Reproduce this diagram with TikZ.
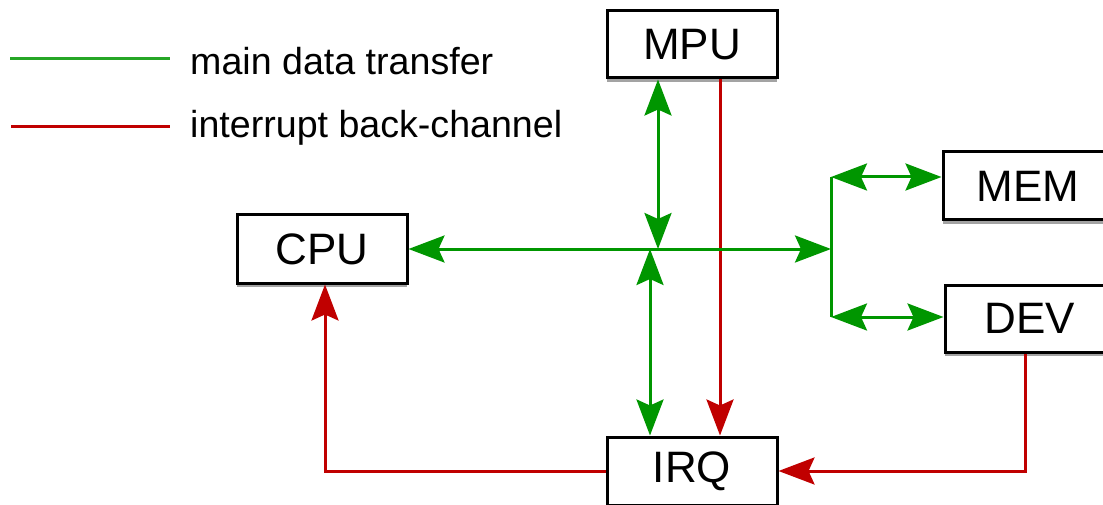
\documentclass[tikz,border=0pt]{standalone}
\usepackage{fontspec}
\setmainfont{Liberation Sans}
\usetikzlibrary{arrows.meta,shadows}
\definecolor{dgreen}{RGB}{0,150,0}
\definecolor{dred}{RGB}{192,0,0}
\tikzset{
  blk/.style={draw=black, line width=3pt, fill=white, minimum width=170pt, minimum height=67pt,
    inner sep=0pt, font=\fontsize{44}{50}\selectfont,
    drop shadow={shadow xshift=0pt, shadow yshift=-4pt, fill=black!60, opacity=0.6}},
  gline/.style={draw=dgreen, line width=3pt, fill=dgreen},
  rline/.style={draw=dred, line width=3pt},
  leg/.style={anchor=base west, inner sep=0pt, font=\fontsize{37.6}{44}\selectfont},
  >={Stealth[length=36pt,width=27pt,inset=6pt]}
}
\begin{document}
\begin{tikzpicture}[x=1pt,y=-1pt]
\clip (0,0) rectangle (1103,505);
\fill[white] (0,0) rectangle (1103,505);
% boxes
\node[blk] (MPU) at (692,44.5) {MPU};
\node[blk, minimum height=68pt] (CPU) at (322,249) {CPU};
\node[blk, minimum height=68pt] (MEM) at (1028,186) {MEM};
\node[blk] (DEV) at (1030,318.5) {DEV};
\node[blk, minimum height=68pt] (IRQ) at (692,471) {IRQ};
% coordinates
\coordinate (J1) at (658,249);
\coordinate (J2) at (650,249);
\coordinate (B) at (831,249);
\coordinate (Bt) at (831,177);
\coordinate (Bb) at (831,317);
\coordinate (R1) at (720,0);
\coordinate (Rd) at (1025,0);
\coordinate (Rc) at (325,0);
% legend
\coordinate (L1a) at (10,59);
\coordinate (L1b) at (170,59);
\coordinate (L2a) at (11,127);
\coordinate (L2b) at (170,127);
\draw[draw=dgreen!85!white, line width=3pt] (L1a) -- (L1b);
\draw[rline] (L2a) -- (L2b);
\node[leg] (T1) at (190,75) {main data transfer};
\node[leg] (T2) at (190,138) {interrupt back-channel};
% red connectors
\draw[rline,->] (MPU.south -| R1) -- (R1 |- IRQ.north);
\draw[rline,->] (DEV.south -| Rd) -- (Rd |- IRQ.east) -- (IRQ.east);
\draw[rline,->] (IRQ.west) -- (Rc |- IRQ.west) -- (CPU.south -| Rc);
% green connectors
\draw[gline,<->] (CPU.east) -- (B);
\draw[gline,<->] (MPU.south -| J1) -- (J1);
\draw[gline,<->] (J2) -- (J2 |- IRQ.north);
\draw[gline] (Bt) -- (Bb);
\draw[gline,<->] (Bt) -- (MEM.west |- Bt);
\draw[gline,<->] (Bb) -- (DEV.west |- Bb);
\end{tikzpicture}
\end{document}
